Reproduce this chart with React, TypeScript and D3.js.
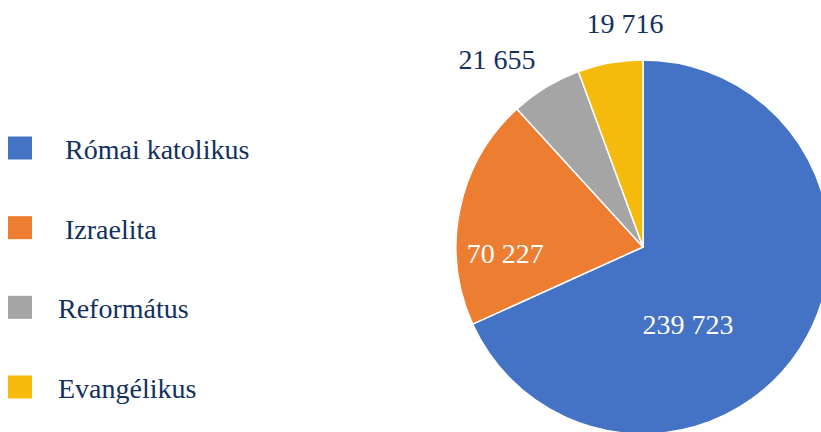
import React from "react";
import * as d3 from "d3";

const categories = ["Római katolikus", "Izraelita", "Református", "Evangélikus"];
const values = [239723, 70227, 21655, 19716];
const valueLabels = ["239 723", "70 227", "21 655", "19 716"];
const colors = ["#4472C4", "#ED7D31", "#A5A5A5", "#F5BA0C"];

// label placement: polar (degrees clockwise from top, radius in px)
const labelPolar = [
  { angle: 150, dist: 90, fill: "#ffffff" },
  { angle: 267, dist: 138, fill: "#ffffff" },
  { angle: 322, dist: 237, fill: "#13305e" },
  { angle: 355.4, dist: 224, fill: "#13305e" },
];
const legendTextX = [65, 65, 58, 58];

export default function App() {
  const W = 821, H = 432;
  const cx = 643, cy = 247, r = 187;
  const pie = d3.pie<number>().sort(null).value((d) => d);
  const arcs = pie(values);
  const arc = d3.arc<d3.PieArcDatum<number>>().innerRadius(0).outerRadius(r);
  const legendY = d3.scalePoint<number>().domain(d3.range(categories.length)).range([148, 387]);
  const font = "'Liberation Serif', 'Times New Roman', serif";
  return (
    <svg width={W} height={H} style={{ position: "absolute", left: 0, top: 0, background: "#fff" }}>
      <g transform={`translate(${cx},${cy})`}>
        {arcs.map((a, i) => (
          <path key={i} d={arc(a) || ""} fill={colors[i]} stroke="#fff" strokeWidth={1.5} strokeLinejoin="round" />
        ))}
        {arcs.map((a, i) => {
          const p = labelPolar[i];
          const t = (p.angle * Math.PI) / 180;
          const x = Math.sin(t) * p.dist;
          const y = -Math.cos(t) * p.dist;
          return (
            <text key={i} x={x} y={y + 9} textAnchor="middle" fontFamily={font} fontSize={28} fill={p.fill}>
              {valueLabels[i]}
            </text>
          );
        })}
      </g>
      {categories.map((c, i) => {
        const y = legendY(i) as number;
        return (
          <g key={c}>
            <rect x={8} y={y - 11.5} width={24} height={23} fill={colors[i]} />
            <text x={legendTextX[i]} y={y + 11} fontFamily={font} fontSize={28} fill="#13305e">
              {c}
            </text>
          </g>
        );
      })}
    </svg>
  );
}
